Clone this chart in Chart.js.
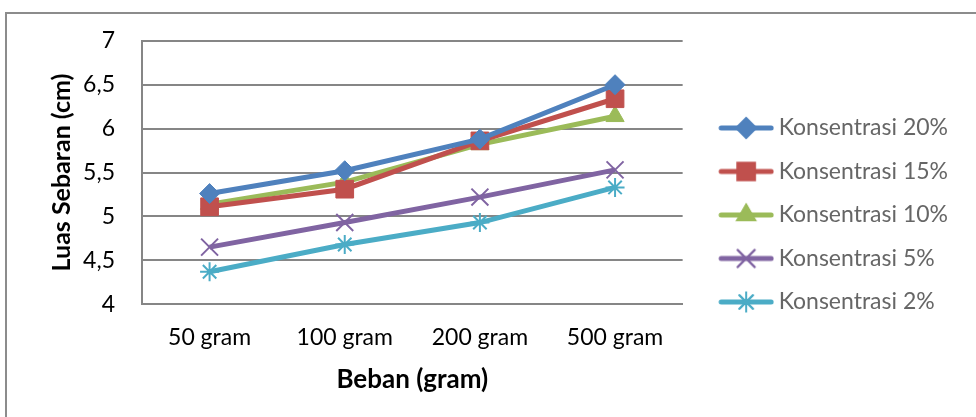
<!DOCTYPE html>
<html>
<head>
<meta charset="utf-8">
<script src="https://cdn.jsdelivr.net/npm/chart.js@4/dist/chart.umd.min.js"></script>
<style>
  html, body { margin: 0; padding: 0; background: #fff; overflow: hidden; }
  #wrap { position: relative; width: 976px; height: 417px; }
  #frame { position: absolute; left: 5px; top: 12px; width: 1000px; height: 500px; border: 2px solid #8c8c8c; box-sizing: border-box; }
  #cv { position: absolute; left: 0; top: 0; }
</style>
</head>
<body>
<div id="wrap">
  <div id="frame"></div>
  <canvas id="cv" width="976" height="417"></canvas>
</div>
<script>
const categories = ["50 gram", "100 gram", "200 gram", "500 gram"];

const konsentrasi20 = [5.26, 5.52, 5.88, 6.50];
const konsentrasi15 = [5.11, 5.31, 5.86, 6.34];
const konsentrasi10 = [5.14, 5.39, 5.82, 6.14];
const konsentrasi5  = [4.65, 4.93, 5.22, 5.53];
const konsentrasi2  = [4.37, 4.68, 4.93, 5.33];

const seriesNames = ["Konsentrasi 20%", "Konsentrasi 15%", "Konsentrasi 10%", "Konsentrasi 5%", "Konsentrasi 2%"];
const seriesData = [konsentrasi20, konsentrasi15, konsentrasi10, konsentrasi5, konsentrasi2];
const colors = ["#4F81BD", "#C0504D", "#9BBB59", "#8064A2", "#4BACC6"];
const markers = ["rectRot", "rect", "triangle", "crossRot", "star"];
const markerRadius = [10, 12.5, 10.5, 12, 9.5];

// legend swatch: line with the marker on it (left part of the canvas kept blank
// so the swatch sits where Excel puts it)
function legendSwatch(i) {
  const c = document.createElement("canvas");
  c.width = 78; c.height = 26;
  const g = c.getContext("2d");
  g.strokeStyle = colors[i];
  g.lineWidth = 5;
  g.lineCap = "round";
  g.beginPath(); g.moveTo(25, 13); g.lineTo(75, 13); g.stroke();
  g.fillStyle = colors[i];
  g.lineWidth = 2;
  Chart.helpers.drawPoint(g, {pointStyle: markers[i], radius: markerRadius[i], rotation: 0, borderWidth: 2}, 50, 13);
  g.fill();
  if (markers[i] === "crossRot" || markers[i] === "star") g.stroke();
  return c;
}

function draw() {
  const datasets = seriesNames.map((name, i) => ({
    label: name,
    data: seriesData[i],
    borderColor: colors[i],
    backgroundColor: colors[i],
    borderWidth: 5,
    pointStyle: markers[i],
    pointRadius: markerRadius[i],
    pointHoverRadius: markerRadius[i],
    pointBorderWidth: (markers[i] === "crossRot" || markers[i] === "star") ? 2 : 1,
    tension: 0
  }));

  new Chart("cv", {
    type: "line",
    data: { labels: categories, datasets: datasets },
    options: {
      responsive: false,
      animation: false,
      layout: { padding: { left: 47, top: 28, right: 18, bottom: 22 } },
      plugins: {
        legend: {
          position: "right",
          maxWidth: 320,
          title: { display: true, text: " ", font: { size: 5 }, padding: { top: 0.5, bottom: 0.5 } },
          labels: {
            usePointStyle: true,
            pointStyleWidth: 64,
            boxHeight: 22,
            padding: 20.5,
            color: "#000",
            font: { family: "Lato", size: 23 },
            generateLabels: (chart) => chart.data.datasets.map((ds, i) => ({
              text: ds.label,
              pointStyle: legendSwatch(i),
              fillStyle: colors[i],
              strokeStyle: colors[i],
              lineWidth: 0,
              datasetIndex: i
            }))
          }
        },
        tooltip: { enabled: false }
      },
      scales: {
        x: {
          offset: true,
          grid: { display: false, drawTicks: false },
          border: { display: true, color: "#868686", width: 2 },
          ticks: { color: "#000", font: { family: "Lato", size: 23 }, padding: 20, maxRotation: 0 },
          title: { display: true, text: "Beban (gram)", color: "#000", font: { family: "Lato", size: 26, weight: "bold" }, padding: { top: -8, bottom: 0 } }
        },
        y: {
          min: 4,
          max: 7,
          afterFit: (s) => { s.width = 95; },
          grid: { color: "#868686", lineWidth: 2, drawTicks: false },
          border: { display: true, color: "#868686", width: 2 },
          ticks: {
            stepSize: 0.5,
            color: "#000",
            font: { family: "Lato", size: 23 },
            padding: 27,
            callback: (v) => String(v).replace(".", ",")
          },
          title: { display: true, text: "Luas Sebaran (cm)", color: "#000", font: { family: "Lato", size: 25, weight: "bold" }, padding: { top: 0, bottom: 0 } }
        }
      }
    }
  });
}

Promise.all([
  document.fonts.load("23px Lato"),
  document.fonts.load("bold 25px Lato")
]).then(draw, draw);
</script>
</body>
</html>
